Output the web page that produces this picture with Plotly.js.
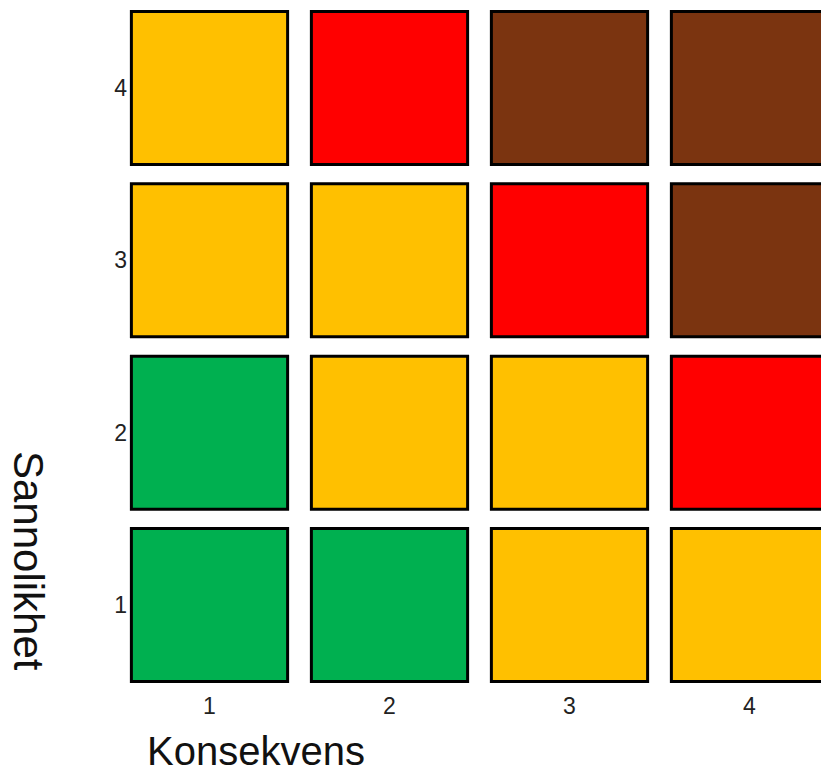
<!DOCTYPE html>
<html>
<head>
<meta charset="utf-8">
<script src="https://cdn.plot.ly/plotly-3.0.1.min.js"></script>
<style>
  html, body { margin: 0; padding: 0; background: #ffffff; overflow: hidden; }
  #chart { width: 821px; height: 773px; }
</style>
</head>
<body>
<div id="chart"></div>
<script>
// ---- data ----
var consequence = [1, 2, 3, 4];          // Konsekvens (x)
var likelihood = [1, 2, 3, 4];           // Sannolikhet (y)
// risk level per cell, rows = likelihood 1..4, columns = consequence 1..4
var riskRow1 = [1, 1, 2, 2];
var riskRow2 = [1, 2, 2, 3];
var riskRow3 = [2, 2, 3, 4];
var riskRow4 = [2, 3, 4, 4];
var riskLevels = [riskRow1, riskRow2, riskRow3, riskRow4];
var xTickLabels = ['1', '2', '3', '4'];
var yTickLabels = ['1', '2', '3', '4'];
var xTitle = 'Konsekvens';
var yTitle = 'Sannolikhet';

// ---- styles ----
var levelColors = {1: '#00B050', 2: '#FFC000', 3: '#FF0000', 4: '#7B3410'};
var cellW = 0.868;
var cellH = 0.888;

var xs = [], bases = [], hs = [], cols = [];
likelihood.forEach(function (lk, i) {
  consequence.forEach(function (cq, j) {
    xs.push(cq);
    bases.push(lk - cellH / 2);
    hs.push(cellH);
    cols.push(levelColors[riskLevels[i][j]]);
  });
});

var trace = {
  type: 'bar',
  x: xs,
  y: hs,
  base: bases,
  width: cellW,
  marker: { color: cols, line: { color: '#000000', width: 3 } },
  hoverinfo: 'skip',
  showlegend: false
};

var L = 128, T = 8, W = 693, H = 678;
var tickFont = { family: 'Liberation Sans, Arial, sans-serif', size: 23, color: '#222222' };
var layout = {
  width: 821,
  height: 773,
  margin: { l: L, r: 0, t: T, b: 773 - T - H },
  paper_bgcolor: '#ffffff',
  plot_bgcolor: '#ffffff',
  barmode: 'overlay',
  xaxis: {
    range: [0.5472, 4.3972],
    tickvals: consequence,
    ticktext: xTickLabels,
    showgrid: false, zeroline: false, showline: false,
    ticks: '',
    ticklabelstandoff: 4,
    tickfont: tickFont
  },
  yaxis: {
    range: [0.530, 4.4642],
    tickvals: likelihood,
    ticktext: yTickLabels,
    showgrid: false, zeroline: false, showline: false,
    ticks: '',
    ticklabelstandoff: 0,
    tickfont: tickFont
  },
  annotations: [
    {
      text: xTitle, xref: 'paper', yref: 'paper',
      x: (256 - L) / W, y: (T + H - 751) / H,
      xanchor: 'center', yanchor: 'middle', showarrow: false,
      font: { family: 'Liberation Sans, Arial, sans-serif', size: 40, color: '#111111' }
    },
    {
      text: yTitle, xref: 'paper', yref: 'paper',
      x: (29 - L) / W, y: (T + H - 561) / H,
      xanchor: 'center', yanchor: 'middle', showarrow: false, textangle: 90,
      font: { family: 'Liberation Sans, Arial, sans-serif', size: 42, color: '#111111' }
    }
  ]
};

Plotly.newPlot('chart', [trace], layout, { displayModeBar: false, staticPlot: true });
</script>
</body>
</html>
